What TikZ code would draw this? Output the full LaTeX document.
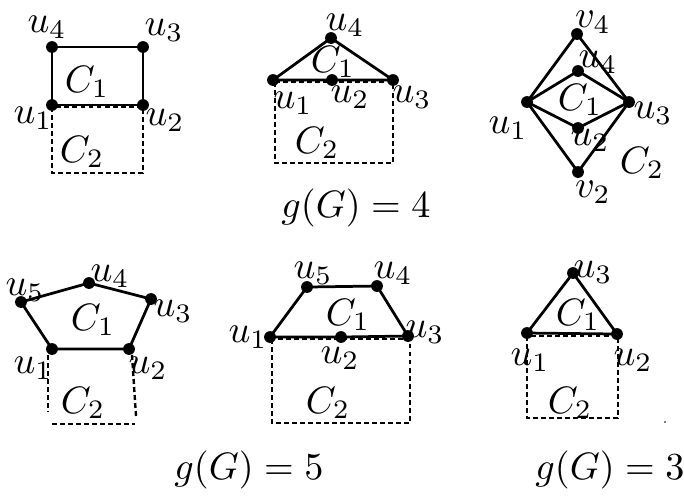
\documentclass[tikz,border=0pt]{standalone}
\begin{document}
\begin{tikzpicture}[x=0.262pt,y=-0.262pt,
  edge/.style={line width=0.72pt},
  dashedge/.style={line width=0.62pt, dash pattern=on 1.3pt off 0.8pt},
  vtx/.style={circle,fill=black,inner sep=0pt,minimum size=3.1pt},
  lbl/.style={inner sep=0pt}]
\useasboundingbox (0,0) rectangle (684,498);

% ---------- Panel 1 ----------
\node[vtx] (A1) at (52,105) {};
\node[vtx] (A2) at (143,105) {};
\node[vtx] (A3) at (143,47) {};
\node[vtx] (A4) at (52,47) {};
\coordinate (A1t) at (52,107); \coordinate (A2t) at (143,107);
\coordinate (A1d) at (52,173); \coordinate (A2d) at (143,173);
\draw[dashedge] (A1t) -- (A1d) -- (A2d) -- (A2t) -- cycle;
\draw[edge] (A1.center) -- (A2.center) -- (A3.center) -- (A4.center) -- cycle;
\node[lbl] (A1l) at (33,118) {$u_1$};
\node[lbl] (A2l) at (165,120) {$u_2$};
\node[lbl] (A3l) at (164,30) {$u_3$};
\node[lbl] (A4l) at (47,27) {$u_4$};
\node[lbl] (AC1) at (87,82) {$C_1$};
\node[lbl] (AC2) at (82,152) {$C_2$};

% ---------- Panel 2 ----------
\node[vtx] (B1) at (273,80) {};
\node[vtx] (B2) at (332,80) {};
\node[vtx] (B3) at (393,80) {};
\node[vtx] (B4) at (331,38) {};
\coordinate (B1t) at (275,82); \coordinate (B3t) at (393,82);
\coordinate (B1d) at (275,163); \coordinate (B3d) at (393,163);
\draw[dashedge] (B1t) -- (B1d) -- (B3d) -- (B3t) -- cycle;
\draw[edge] (B1.center) -- (B2.center) -- (B3.center) -- (B4.center) -- cycle;
\node[lbl] (B1l) at (293,103) {$u_1$};
\node[lbl] (B2l) at (350,97) {$u_2$};
\node[lbl] (B3l) at (412,97) {$u_3$};
\node[lbl] (B4l) at (345,25) {$u_4$};
\node[lbl] (BC1) at (333,62) {$C_1$};
\node[lbl] (BC2) at (317,143) {$C_2$};
\node[lbl] (G4) at (356,208) {$g(G)=4$};

% ---------- Panel 3 ----------
\node[vtx] (Dv4) at (577,34) {};
\node[vtx] (Du4) at (578,71) {};
\node[vtx] (Du1) at (527,102) {};
\node[vtx] (Du3) at (629,102) {};
\node[vtx] (Du2) at (578,128) {};
\node[vtx] (Dv2) at (578,172) {};
\draw[edge] (Du1.center) -- (Dv4.center) -- (Du3.center);
\draw[edge] (Du1.center) -- (Du4.center) -- (Du3.center);
\draw[edge] (Du1.center) -- (Du2.center) -- (Du3.center);
\draw[edge] (Du1.center) -- (Dv2.center) -- (Du3.center);
\node[lbl] (Dv4l) at (593,22) {$v_4$};
\node[lbl] (Du4l) at (598,62) {$u_4$};
\node[lbl] (DC1) at (580,100) {$C_1$};
\node[lbl] (Du3l) at (653,113) {$u_3$};
\node[lbl] (Du1l) at (508,128) {$u_1$};
\node[lbl] (Du2l) at (590,140) {$u_2$};
\node[lbl] (DC2) at (642,163) {$C_2$};
\node[lbl] (Dv2l) at (593,192) {$v_2$};

% ---------- Panel 4 ----------
\node[vtx] (E1) at (52,349) {};
\node[vtx] (E2) at (129,349) {};
\node[vtx] (E3) at (151,299) {};
\node[vtx] (E4) at (89,283) {};
\node[vtx] (E5) at (21,302) {};
\coordinate (E1a) at (48,355); \coordinate (E1b) at (48,412);
\coordinate (E0a) at (52,424); \coordinate (E0b) at (135,424);
\coordinate (E2a) at (132,355); \coordinate (E2b) at (136,416);
\draw[dashedge] (E1a) -- (E1b);
\draw[dashedge] (E0a) -- (E0b);
\draw[dashedge] (E2a) -- (E2b);
\draw[edge] (E1.center) -- (E2.center) -- (E3.center) -- (E4.center) -- (E5.center) -- cycle;
\node[lbl] (E1l) at (33,368) {$u_1$};
\node[lbl] (E2l) at (148,368) {$u_2$};
\node[lbl] (E3l) at (173,311) {$u_3$};
\node[lbl] (E4l) at (110,276) {$u_4$};
\node[lbl] (E5l) at (25,290) {$u_5$};
\node[lbl] (EC1) at (93,320) {$C_1$};
\node[lbl] (EC2) at (83,403) {$C_2$};
\node[lbl] (G5) at (249,470) {$g(G)=5$};

% ---------- Panel 5 ----------
\node[vtx] (F1) at (270,337) {};
\node[vtx] (F2) at (341,337) {};
\node[vtx] (F3) at (408,336) {};
\node[vtx] (F4) at (377,286) {};
\node[vtx] (F5) at (307,287) {};
\coordinate (F1t) at (272,339); \coordinate (F3t) at (410,339);
\coordinate (F1d) at (272,423); \coordinate (F3d) at (410,423);
\draw[dashedge] (F1t) -- (F1d) -- (F3d) -- (F3t) -- cycle;
\draw[edge] (F1.center) -- (F2.center) -- (F3.center) -- (F4.center) -- (F5.center) -- cycle;
\node[lbl] (F1l) at (248,337) {$u_1$};
\node[lbl] (F2l) at (340,358) {$u_2$};
\node[lbl] (F3l) at (425,332) {$u_3$};
\node[lbl] (F4l) at (393,273) {$u_4$};
\node[lbl] (F5l) at (313,273) {$u_5$};
\node[lbl] (FC1) at (348,315) {$C_1$};
\node[lbl] (FC2) at (328,403) {$C_2$};

% ---------- Panel 6 ----------
\node[vtx] (H1) at (527,333) {};
\node[vtx] (H2) at (617,334) {};
\node[vtx] (H3) at (573,273) {};
\coordinate (H1t) at (527,336); \coordinate (H2t) at (618,336);
\coordinate (H1d) at (527,418); \coordinate (H2d) at (618,418);
\draw[dashedge] (H1t) -- (H1d) -- (H2d) -- (H2t) -- cycle;
\draw[edge] (H1.center) -- (H2.center) -- (H3.center) -- cycle;
\node[lbl] (H1l) at (530,360) {$u_1$};
\node[lbl] (H2l) at (633,360) {$u_2$};
\node[lbl] (H3l) at (593,272) {$u_3$};
\node[lbl] (HC1) at (578,315) {$C_1$};
\node[lbl] (HC2) at (570,403) {$C_2$};
\node[lbl] (G3) at (610,470) {$g(G)=3$};
\fill[black!50] (664,421) rectangle (666,423);
\end{tikzpicture}
\end{document}
